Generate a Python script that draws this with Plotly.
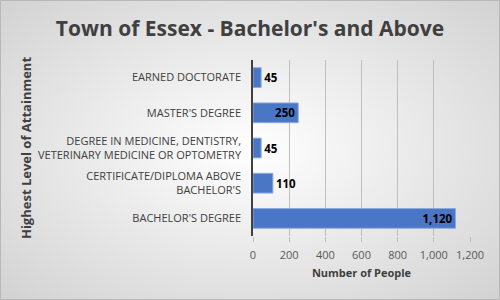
import base64
import plotly.graph_objects as go

categories = [
    "BACHELOR'S DEGREE",
    "CERTIFICATE/DIPLOMA ABOVE<br>BACHELOR'S",
    "DEGREE IN MEDICINE, DENTISTRY,<br>VETERINARY MEDICINE OR OPTOMETRY",
    "MASTER'S DEGREE",
    "EARNED DOCTORATE",
]
values = [1120, 110, 45, 250, 45]
label_positions = ["inside", "outside", "outside", "inside", "outside"]
x_ticks = [0, 200, 400, 600, 800, 1000, 1200]

svg = (
    '<svg xmlns="http://www.w3.org/2000/svg" width="500" height="300">'
    '<defs><radialGradient id="g" cx="50%" cy="50%" r="75%">'
    '<stop offset="0%" stop-color="#ffffff"/><stop offset="100%" stop-color="#cfcfcf"/>'
    '</radialGradient></defs><rect width="500" height="300" fill="url(#g)"/></svg>'
)
bg_src = "data:image/svg+xml;base64," + base64.b64encode(svg.encode()).decode()

L, R, T, B = 253, 30, 60, 64
PW, PH = 500 - L - R, 300 - T - B

fig = go.Figure(
    go.Bar(
        x=values,
        y=categories,
        orientation="h",
        marker=dict(color="#4a76c6", line=dict(color="#8eaadb", width=1)),
        text=[f"{v:,}" for v in values],
        textposition=label_positions,
        insidetextanchor="end",
        textfont=dict(family="Open Sans", size=11.5, color="black", weight="bold"),
        cliponaxis=False,
        width=0.56,
    )
)

fig.update_layout(
    width=500,
    height=300,
    margin=dict(l=L, r=R, t=T, b=B),
    paper_bgcolor="rgba(0,0,0,0)",
    plot_bgcolor="rgba(0,0,0,0)",
    showlegend=False,
    uniformtext=dict(minsize=11, mode="show"),
    title=dict(
        text="Town of Essex - Bachelor's and Above",
        x=0.5,
        xanchor="center",
        y=0.905,
        yanchor="middle",
        font=dict(family="Open Sans", size=21, color="#404040", weight="bold"),
    ),
    images=[
        dict(
            source=bg_src,
            xref="paper",
            yref="paper",
            x=-L / PW,
            y=1 + T / PH,
            sizex=500 / PW,
            sizey=300 / PH,
            xanchor="left",
            yanchor="top",
            sizing="stretch",
            layer="below",
        )
    ],
    shapes=[
        dict(
            type="rect",
            xref="paper",
            yref="paper",
            x0=-(L - 0.5) / PW,
            x1=1 + (R - 0.5) / PW,
            y0=-(B - 0.5) / PH,
            y1=1 + (T - 0.5) / PH,
            line=dict(color="#b8b8b8", width=1),
        )
    ],
    font=dict(family="Open Sans", color="#595959"),
)

fig.update_xaxes(
    range=[0, 1200],
    tickvals=x_ticks,
    tickformat=",",
    showgrid=True,
    gridcolor="#bfbfbf",
    gridwidth=1,
    zeroline=False,
    ticks="outside",
    ticklen=5,
    tickcolor="#bfbfbf",
    tickfont=dict(size=11, color="#595959"),
    ticklabelstandoff=4,
    title=dict(
        text="Number of People",
        font=dict(size=11, color="#404040", weight="bold"),
        standoff=8,
    ),
)

fig.update_yaxes(
    showline=True,
    linecolor="#404040",
    linewidth=1.5,
    showgrid=False,
    ticks="",
    ticklabelstandoff=8,
    tickfont=dict(size=11, color="#404040"),
    title=dict(
        text="Highest Level of Attainment",
        font=dict(size=13, color="#404040", weight="bold"),
        standoff=3,
    ),
)

fig.write_html("out.html")
